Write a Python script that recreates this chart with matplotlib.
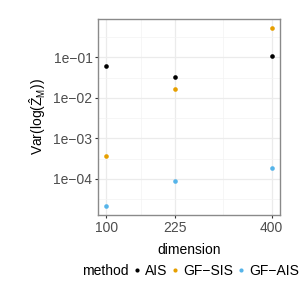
import matplotlib
matplotlib.use("Agg")
import matplotlib.pyplot as plt
import numpy as np
from matplotlib.lines import Line2D

plt.rcParams['font.family'] = ['Liberation Sans', 'DejaVu Sans']
plt.rcParams['mathtext.fontset'] = 'custom'
plt.rcParams['mathtext.rm'] = 'Liberation Sans'
plt.rcParams['mathtext.it'] = 'Liberation Sans:italic'

dimension = [100, 225, 400]
methods = ["AIS", "GF\u2212SIS", "GF\u2212AIS"]
colors = ["#000000", "#E69F00", "#56B4E9"]
values = {
    "AIS": [0.060, 0.033, 0.106],
    "GF\u2212SIS": [3.6e-4, 0.0166, 0.53],
    "GF\u2212AIS": [2.1e-5, 8.9e-5, 1.86e-4],
}
xticks = [100, 225, 400]
yticks = [1e-1, 1e-2, 1e-3, 1e-4]
ytick_labels = ["1e\u221201", "1e\u221202", "1e\u221203", "1e\u221204"]

fig = plt.figure(figsize=(3, 3), dpi=100)
ax = fig.add_axes([98/300, 1-215/300, 182/300, 196/300])

for m, c in zip(methods, colors):
    ax.scatter(dimension, values[m], s=11, color=c, zorder=3, linewidths=0)

ax.set_yscale('log')
ax.set_xlim(85, 415)
ax.set_ylim(10**-4.895, 10**-0.054)
ax.set_xticks(xticks)
ax.set_xticklabels([str(v) for v in xticks])
ax.set_yticks(yticks)
ax.set_yticklabels(ytick_labels)
ax.yaxis.set_minor_locator(matplotlib.ticker.FixedLocator([10**-0.5, 10**-1.5, 10**-2.5, 10**-3.5, 10**-4.5]))
ax.yaxis.set_minor_formatter(matplotlib.ticker.NullFormatter())
ax.set_xticks([162.5, 312.5], minor=True)
ax.tick_params(which='minor', length=0)
ax.tick_params(which='major', length=2.5, width=0.8, color='#333333',
               labelsize=10, labelcolor='#4d4d4d', pad=1.5)
ax.grid(which='major', color='#ebebeb', linewidth=0.9)
ax.grid(which='minor', color='#f3f3f3', linewidth=0.5)
ax.set_axisbelow(True)
for sp in ax.spines.values():
    sp.set_color('#8a8a8a')
    sp.set_linewidth(1.0)

ax.set_xlabel('dimension', fontsize=10, labelpad=6)
ax.set_ylabel(r'Var(log($\hat{\mathrm{Z}}_{\mathrm{M}}$))', fontsize=10, labelpad=4)

fig.text(82/300, 1-271/300, 'method', fontsize=10, va='center', ha='left')
handles = [Line2D([], [], linestyle='none', marker='o', markersize=3, color=c, markeredgewidth=0)
           for c in colors]
fig.legend(handles, methods, loc='center left', bbox_to_anchor=(133.5/300, 1-271/300),
           ncol=3, frameon=False, fontsize=10, handlelength=0.5, handletextpad=0.32,
           columnspacing=0.32, borderaxespad=0, borderpad=0)

fig.savefig('out.png', dpi=100)
